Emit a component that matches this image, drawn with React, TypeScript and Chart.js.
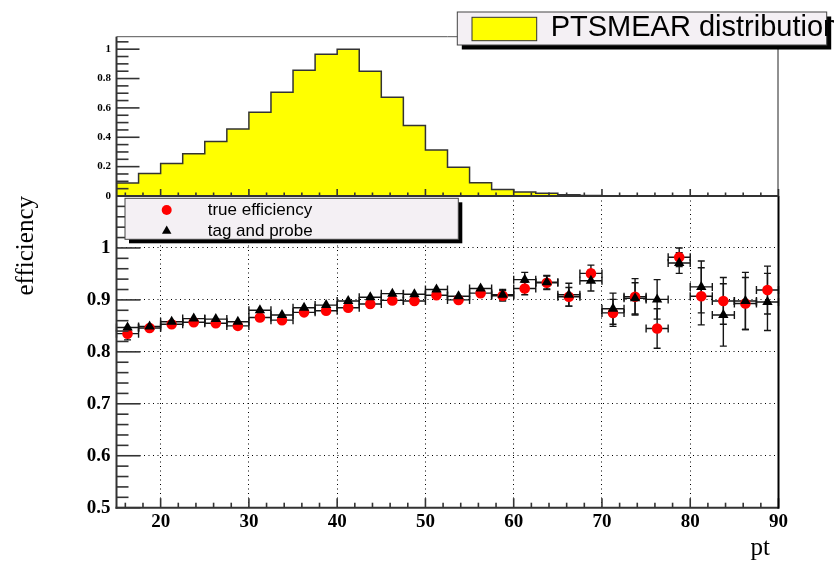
import React, { useEffect, useRef } from "react";
import { Chart, registerables } from "chart.js";

Chart.register(...registerables);

const WIDTH = 834;
const HEIGHT = 561;

// pt bins, 2.5 wide, covering 15..90
const ptBinCenters = [
  16.25, 18.75, 21.25, 23.75, 26.25, 28.75, 31.25, 33.75, 36.25, 38.75,
  41.25, 43.75, 46.25, 48.75, 51.25, 53.75, 56.25, 58.75, 61.25, 63.75,
  66.25, 68.75, 71.25, 73.75, 76.25, 78.75, 81.25, 83.75, 86.25, 88.75,
];
const ptBinHalfWidth = 1.25;

// normalised PTSMEAR distribution per bin
const ptSmear = [
  0.088, 0.154, 0.222, 0.288, 0.372, 0.456, 0.571, 0.707, 0.857, 0.966,
  1.0, 0.85, 0.673, 0.481, 0.313, 0.195, 0.09, 0.045, 0.027, 0.018,
  0.009, 0.004, 0.002, 0.002, 0.001, 0, 0, 0, 0, 0,
];

const trueEff = [
  0.835, 0.846, 0.853, 0.857, 0.855, 0.85, 0.866, 0.861, 0.876, 0.879,
  0.885, 0.892, 0.899, 0.898, 0.909, 0.9, 0.913, 0.908, 0.922, 0.933,
  0.906, 0.951, 0.875, 0.906, 0.845, 0.982, 0.907, 0.898, 0.893, 0.919,
];
const trueEffErr = [
  0.012, 0.004, 0.004, 0.004, 0.004, 0.004, 0.005, 0.005, 0.005, 0.005,
  0.005, 0.005, 0.006, 0.006, 0.006, 0.006, 0.008, 0.01, 0.012, 0.013,
  0.018, 0.016, 0.026, 0.035, 0.038, 0.018, 0.055, 0.045, 0.05, 0.046,
];
const tagProbeEff = [
  0.847, 0.849, 0.858, 0.864, 0.863, 0.858, 0.88, 0.871, 0.885, 0.89,
  0.898, 0.905, 0.912, 0.911, 0.92, 0.907, 0.922, 0.91, 0.939, 0.934,
  0.91, 0.937, 0.883, 0.903, 0.901, 0.971, 0.925, 0.871, 0.898, 0.896,
];
const tagProbeErr = [
  0.009, 0.004, 0.004, 0.004, 0.004, 0.004, 0.005, 0.005, 0.005, 0.005,
  0.005, 0.005, 0.006, 0.006, 0.006, 0.006, 0.008, 0.01, 0.014, 0.013,
  0.022, 0.02, 0.03, 0.03, 0.038, 0.02, 0.05, 0.06, 0.055, 0.055,
];

const ptTicks = [20, 30, 40, 50, 60, 70, 80, 90];
const effTicks = [0.5, 0.6, 0.7, 0.8, 0.9, 1.0];
const smearTicks = [0, 0.2, 0.4, 0.6, 0.8, 1.0];

const legendSmear = "PTSMEAR distribution";
const legendTrue = "true efficiency";
const legendTagProbe = "tag and probe";
const xTitle = "pt";
const yTitle = "efficiency";

// frame geometry
const AREA_LEFT = 116.5;
const AREA_RIGHT = 778.5;
const UPPER_TOP = 36.7;
const SPLIT_Y = 196;
const LOWER_BOTTOM = 507.7;

const SERIF = "'Liberation Serif', 'Times New Roman', serif";
const SANS = "'Liberation Sans', Arial, sans-serif";
const AXIS_COLOR = "#333333";

function line(ctx: CanvasRenderingContext2D, x0: number, y0: number, x1: number, y1: number) {
  ctx.beginPath();
  ctx.moveTo(x0, y0);
  ctx.lineTo(x1, y1);
  ctx.stroke();
}

function range(from: number, to: number, step: number) {
  const out: number[] = [];
  for (let v = from; v <= to + step * 1e-6; v += step) out.push(Number(v.toFixed(6)));
  return out;
}

function drawTriangle(ctx: CanvasRenderingContext2D, x: number, y: number, r: number) {
  ctx.beginPath();
  ctx.moveTo(x, y - r);
  ctx.lineTo(x + r * 0.866, y + r * 0.5);
  ctx.lineTo(x - r * 0.866, y + r * 0.5);
  ctx.closePath();
  ctx.fill();
}

function drawLegendBox(ctx: CanvasRenderingContext2D, x: number, y: number, w: number, h: number, shadow: number) {
  ctx.fillStyle = "#000";
  ctx.fillRect(x + shadow, y + shadow, w, h);
  ctx.fillStyle = "#f4f0f4";
  ctx.fillRect(x, y, w, h);
  ctx.strokeStyle = "#444";
  ctx.lineWidth = 1;
  ctx.strokeRect(x, y, w, h);
}

const errorBarPlugin = {
  id: "errorBars",
  beforeDatasetsDraw(chart: any) {
    const { ctx } = chart;
    const xs = chart.scales.x;
    const ys = chart.scales.y;
    ctx.save();
    ctx.strokeStyle = "#151515";
    ctx.lineWidth = 1.4;
    const series: [number[], number[]][] = [
      [trueEff, trueEffErr],
      [tagProbeEff, tagProbeErr],
    ];
    series.forEach(([vals, errs]) => {
      vals.forEach((v, i) => {
        const cx = xs.getPixelForValue(ptBinCenters[i]);
        const x0 = xs.getPixelForValue(ptBinCenters[i] - ptBinHalfWidth);
        const x1 = xs.getPixelForValue(ptBinCenters[i] + ptBinHalfWidth);
        const cy = ys.getPixelForValue(v);
        const yLo = ys.getPixelForValue(v - errs[i]);
        const yHi = ys.getPixelForValue(v + errs[i]);
        ctx.beginPath();
        ctx.moveTo(x0, cy);
        ctx.lineTo(x1, cy);
        ctx.moveTo(x0, cy - 4);
        ctx.lineTo(x0, cy + 4);
        ctx.moveTo(x1, cy - 4);
        ctx.lineTo(x1, cy + 4);
        if (yLo - cy > 5) {
          ctx.moveTo(cx, yHi);
          ctx.lineTo(cx, yLo);
          ctx.moveTo(cx - 3.5, yHi);
          ctx.lineTo(cx + 3.5, yHi);
          ctx.moveTo(cx - 3.5, yLo);
          ctx.lineTo(cx + 3.5, yLo);
        }
        ctx.stroke();
      });
    });
    ctx.restore();
  },
};

const lowerFramePlugin = {
  id: "lowerFrame",
  afterDraw(chart: any) {
    const { ctx, chartArea } = chart;
    const xs = chart.scales.x;
    const ys = chart.scales.y;
    const { left, right, top, bottom } = chartArea;
    ctx.save();
    ctx.strokeStyle = AXIS_COLOR;
    ctx.lineWidth = 1.6;
    // ticks on the efficiency axis
    range(0.5, 1.1, 0.02).forEach((v) => {
      const y = ys.getPixelForValue(v);
      const major = Math.abs(v * 10 - Math.round(v * 10)) < 1e-6;
      line(ctx, left, y, left + (major ? 24 : 12), y);
    });
    // ticks on the pt axis
    range(16, 90, 2).forEach((v) => {
      const x = xs.getPixelForValue(v);
      const major = v % 10 === 0;
      line(ctx, x, bottom, x, bottom - (major ? 9.5 : 5));
    });
    ctx.lineWidth = 2;
    line(ctx, left, top, left, bottom + 1);
    line(ctx, left - 1, bottom, right, bottom);
    ctx.strokeStyle = "#000";
    line(ctx, right, top, right, bottom + 1);

    // legend
    drawLegendBox(ctx, 125, 198.3, 333.3, 41, 4);
    ctx.fillStyle = "#ff0000";
    ctx.beginPath();
    ctx.arc(166.7, 210, 5, 0, Math.PI * 2);
    ctx.fill();
    ctx.fillStyle = "#000";
    drawTriangle(ctx, 166.7, 231, 5.5);
    ctx.font = `17px ${SANS}`;
    ctx.textBaseline = "middle";
    ctx.textAlign = "left";
    ctx.fillText(legendTrue, 207.7, 210);
    ctx.fillText(legendTagProbe, 207.7, 231);

    // axis titles
    ctx.font = `25px ${SERIF}`;
    ctx.textAlign = "right";
    ctx.textBaseline = "alphabetic";
    ctx.fillText(xTitle, 770, 555);
    ctx.save();
    ctx.translate(33, 196);
    ctx.rotate(-Math.PI / 2);
    ctx.fillText(yTitle, 0, 0);
    ctx.restore();
    ctx.restore();
  },
};

const upperFramePlugin = {
  id: "upperFrame",
  afterDraw(chart: any) {
    const { ctx, chartArea } = chart;
    const xs = chart.scales.x;
    const ys = chart.scales.y;
    const { left, right, top, bottom } = chartArea;
    ctx.save();
    ctx.strokeStyle = AXIS_COLOR;
    ctx.lineWidth = 1.6;
    range(0, 1.05, 0.05).forEach((v) => {
      const y = ys.getPixelForValue(v);
      const major = Math.abs(v * 5 - Math.round(v * 5)) < 1e-6;
      line(ctx, left, y, left + (major ? 23 : 12), y);
    });
    range(16, 90, 2).forEach((v) => {
      const x = xs.getPixelForValue(v);
      const major = v % 10 === 0;
      line(ctx, x, bottom, x, bottom - (major ? 7 : 3.5));
    });
    ctx.lineWidth = 1;
    ctx.strokeStyle = "#555";
    line(ctx, left, top, right, top);
    ctx.strokeStyle = "#222";
    line(ctx, right - 0.5, top, right - 0.5, bottom);
    ctx.strokeStyle = AXIS_COLOR;
    ctx.lineWidth = 2;
    line(ctx, left, top, left, bottom);
    line(ctx, left, bottom, right, bottom);

    // legend
    drawLegendBox(ctx, 457.3, 12, 369.4, 33, 4.5);
    ctx.fillStyle = "#ffff00";
    ctx.fillRect(472, 17.3, 64.7, 23.4);
    ctx.strokeStyle = "#333";
    ctx.lineWidth = 1;
    ctx.strokeRect(472, 17.3, 64.7, 23.4);
    ctx.fillStyle = "#000";
    ctx.font = `29px ${SANS}`;
    ctx.textAlign = "left";
    ctx.textBaseline = "alphabetic";
    ctx.fillText(legendSmear, 550.7, 35.5);
    ctx.restore();
  },
};

function fmt(v: number) {
  return String(Number(Number(v).toFixed(2)));
}

export default function App() {
  const lowerRef = useRef<HTMLCanvasElement>(null);
  const upperRef = useRef<HTMLCanvasElement>(null);

  useEffect(() => {
    if (!lowerRef.current || !upperRef.current) return;

    const lower = new Chart(lowerRef.current, {
      type: "scatter",
      data: {
        datasets: [
          {
            label: legendTrue,
            data: ptBinCenters.map((x, i) => ({ x, y: trueEff[i] })),
            pointStyle: "circle",
            pointRadius: 5.3,
            backgroundColor: "#ff0000",
            borderColor: "#ff0000",
            borderWidth: 0,
            order: 2,
          },
          {
            label: legendTagProbe,
            data: ptBinCenters.map((x, i) => ({ x, y: tagProbeEff[i] })),
            pointStyle: "triangle",
            pointRadius: 6,
            backgroundColor: "#000000",
            borderColor: "#000000",
            borderWidth: 0,
            order: 1,
          },
        ],
      },
      options: {
        animation: false,
        responsive: false,
        events: [],
        layout: { padding: { left: 0, right: WIDTH - AREA_RIGHT, top: SPLIT_Y, bottom: 0 } },
        plugins: { legend: { display: false }, tooltip: { enabled: false } },
        scales: {
          x: {
            type: "linear",
            min: 15,
            max: 90,
            afterBuildTicks: (s: any) => {
              s.ticks = ptTicks.map((value) => ({ value }));
            },
            afterFit: (s: any) => {
              s.height = HEIGHT - LOWER_BOTTOM;
            },
            grid: {
              drawTicks: false,
              color: (c: any) => (c.tick && c.tick.value < 90 ? "#000" : "rgba(0,0,0,0)"),
              lineWidth: 1,
            },
            border: { display: false, dash: [1, 3.5] },
            ticks: {
              color: "#000",
              font: { family: SERIF, size: 19, weight: "bold" },
              padding: 3,
              maxRotation: 0,
              autoSkip: false,
              callback: (v: any) => fmt(v),
            },
          },
          y: {
            type: "linear",
            min: 0.5,
            max: 1.1,
            afterBuildTicks: (s: any) => {
              s.ticks = effTicks.map((value) => ({ value }));
            },
            afterFit: (s: any) => {
              s.width = AREA_LEFT;
            },
            grid: {
              drawTicks: false,
              color: (c: any) => (c.tick && c.tick.value > 0.55 ? "#000" : "rgba(0,0,0,0)"),
              lineWidth: 1,
            },
            border: { display: false, dash: [1, 3.5] },
            ticks: {
              color: "#000",
              font: { family: SERIF, size: 19, weight: "bold" },
              padding: 6,
              autoSkip: false,
              callback: (v: any) => fmt(v),
            },
          },
        },
      },
      plugins: [errorBarPlugin, lowerFramePlugin],
    } as any);

    const upper = new Chart(upperRef.current, {
      type: "line",
      data: {
        datasets: [
          {
            label: legendSmear,
            data: [
              { x: ptBinCenters[0] - ptBinHalfWidth, y: 0 },
              ...ptBinCenters.map((c, i) => ({ x: c + ptBinHalfWidth, y: ptSmear[i] })),
            ],
            stepped: "after",
            fill: "origin",
            backgroundColor: "#ffff00",
            borderColor: "#333333",
            borderWidth: 1.5,
            pointRadius: 0,
          },
        ],
      },
      options: {
        animation: false,
        responsive: false,
        events: [],
        layout: {
          padding: { left: 0, right: WIDTH - AREA_RIGHT, top: UPPER_TOP, bottom: HEIGHT - SPLIT_Y },
        },
        plugins: { legend: { display: false }, tooltip: { enabled: false } },
        scales: {
          x: { type: "linear", min: 15, max: 90, display: false },
          y: {
            type: "linear",
            min: 0,
            max: 1.085,
            afterBuildTicks: (s: any) => {
              s.ticks = smearTicks.map((value) => ({ value }));
            },
            afterFit: (s: any) => {
              s.width = AREA_LEFT;
            },
            grid: { display: false, drawTicks: false },
            border: { display: false },
            ticks: {
              color: "#000",
              font: { family: SERIF, size: 11, weight: "bold" },
              padding: 5.5,
              autoSkip: false,
              callback: (v: any) => fmt(v),
            },
          },
        },
      },
      plugins: [upperFramePlugin],
    } as any);

    return () => {
      lower.destroy();
      upper.destroy();
    };
  }, []);

  return (
    <div
      style={{
        position: "absolute",
        left: 0,
        top: 0,
        width: WIDTH,
        height: HEIGHT,
        background: "#ffffff",
        overflow: "hidden",
      }}
    >
      <canvas ref={lowerRef} width={WIDTH} height={HEIGHT} style={{ position: "absolute", left: 0, top: 0 }} />
      <canvas ref={upperRef} width={WIDTH} height={HEIGHT} style={{ position: "absolute", left: 0, top: 0 }} />
    </div>
  );
}
